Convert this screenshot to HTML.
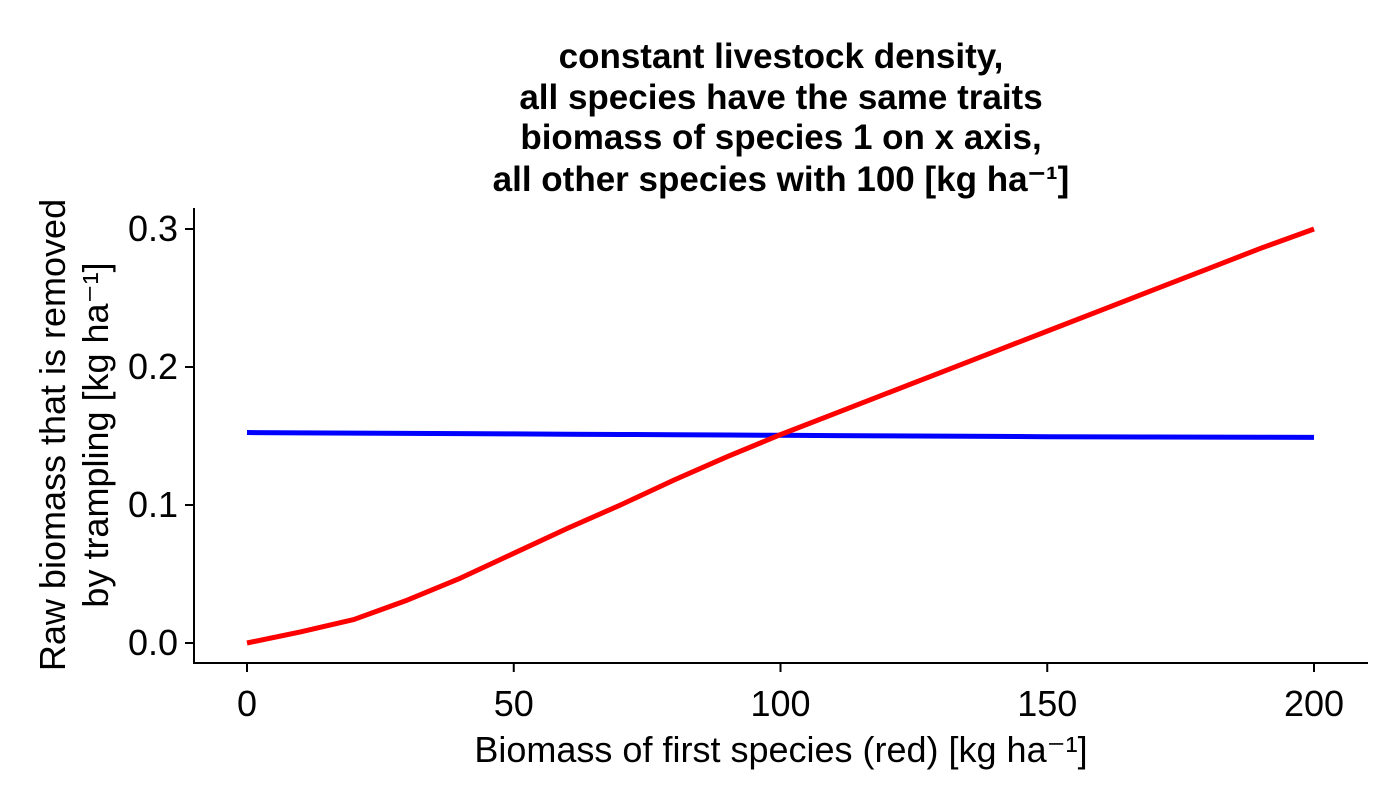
<!DOCTYPE html>
<html><head><meta charset="utf-8"><style>
html,body{margin:0;padding:0;background:#fff;}
svg{display:block;font-family:"Liberation Sans",Arial,sans-serif;}
</style></head><body>
<svg id="chart" width="1400" height="800">
<g font-weight="bold" font-size="35" text-anchor="middle">
<text x="781" y="68">constant livestock density,</text>
<text x="781" y="109">all species have the same traits</text>
<text x="781" y="149">biomass of species 1 on x axis,</text>
<text x="781" y="191">all other species with 100 [kg ha⁻¹]</text>
</g>
<g id="axes"></g>
<g id="series"></g>
<text x="781" y="762" font-size="36" text-anchor="middle">Biomass of first species (red) [kg ha⁻¹]</text>
<g font-size="36" text-anchor="middle" transform="translate(0,435) rotate(-90)">
<text x="0" y="65">Raw biomass that is removed</text>
<text x="0" y="108">by trampling [kg ha⁻¹]</text>
</g>
</svg>
<script>
const xValues=[0,10,20,30,40,50,60,70,80,90,100,110,120,130,140,150,160,170,180,190,200];
const redValues=[0,0.008,0.017,0.031,0.047,0.065,0.083,0.100,0.118,0.135,0.151,0.166,0.181,0.196,0.211,0.226,0.241,0.256,0.271,0.286,0.300];
const blueValues=[0.1525,0.1523,0.1521,0.1519,0.1517,0.1515,0.1513,0.1511,0.1509,0.1507,0.1505,0.1503,0.1501,0.1499,0.1497,0.1495,0.1494,0.1493,0.1492,0.1491,0.149];
const xTicks=[0,50,100,150,200];
const yTicks=[0.0,0.1,0.2,0.3];
const NS="http://www.w3.org/2000/svg";
const sx=v=>247+v*(1314-247)/200;
const sy=v=>643-v*(643-229)/0.3;
const axes=document.getElementById('axes');
function mk(tag,attrs,parent){const e=document.createElementNS(NS,tag);for(const k in attrs)e.setAttribute(k,attrs[k]);parent.appendChild(e);return e;}
const xa=mk('line',{x1:194,y1:663,x2:1368,y2:663,stroke:'#000','stroke-width':2},axes);


const ya=mk('line',{x1:194,y1:208,x2:194,y2:664,stroke:'#000','stroke-width':2},axes);


xTicks.forEach(t=>{
 const l=mk('line',{x1:sx(t),y1:663,x2:sx(t),y2:672,stroke:'#000','stroke-width':2},axes);
 
 
 const tx=mk('text',{x:sx(t),y:716,'font-size':36,'text-anchor':'middle'},axes);
 tx.textContent=String(t);
 
 
});
yTicks.forEach(t=>{
 const l=mk('line',{x1:185,y1:sy(t),x2:194,y2:sy(t),stroke:'#000','stroke-width':2},axes);
 
 
 const tx=mk('text',{x:178,y:sy(t)+12,'font-size':36,'text-anchor':'end'},axes);
 tx.textContent=t.toFixed(1);
 
 
});
const ser=document.getElementById('series');
const pts=a=>xValues.map((x,i)=>sx(x)+','+sy(a[i])).join(' ');
const bl=mk('polyline',{points:pts(blueValues),fill:'none',stroke:'#0000ff','stroke-width':5,'stroke-linejoin':'round'},ser);


const rl=mk('polyline',{points:pts(redValues),fill:'none',stroke:'#ff0000','stroke-width':5,'stroke-linejoin':'round'},ser);


</script>
</body></html>
